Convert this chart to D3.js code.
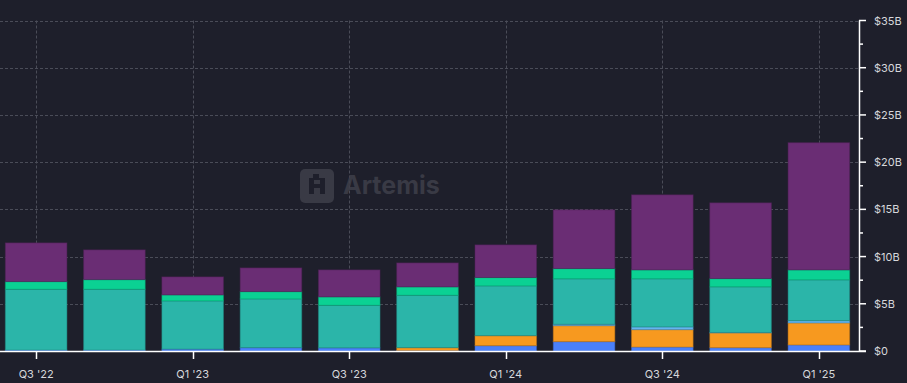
<!DOCTYPE html>
<html><head><meta charset="utf-8">
<script src="https://cdn.jsdelivr.net/npm/d3@7"></script>
<style>
html,body{margin:0;padding:0;background:#1e1f2b;}
svg{display:block;font-family:Inter,"Noto Sans",sans-serif;}
</style></head>
<body><svg id="c" width="907" height="383"></svg>
<script>
const quarters = ["Q3 '22","Q4 '22","Q1 '23","Q2 '23","Q3 '23","Q4 '23","Q1 '24","Q2 '24","Q3 '24","Q4 '24","Q1 '25"];
const xTickLabels = ["Q3 '22","Q1 '23","Q3 '23","Q1 '24","Q3 '24","Q1 '25"];
const seriesNames = ["blue","orange","lightblue","teal","green","purple"];
const blue      = [0.10,0.10,0.20,0.35,0.33,0.05,0.56,0.99,0.42,0.35,0.64];
const orange    = [0,0,0,0,0,0.30,1.06,1.69,1.84,1.56,2.33];
const lightblue = [0,0,0,0,0,0,0,0.15,0.29,0.05,0.24];
const teal      = [6.44,6.44,5.10,5.16,4.51,5.55,5.27,4.81,5.09,4.83,4.32];
const green     = [0.81,1.02,0.64,0.78,0.89,0.89,0.89,1.09,0.95,0.88,1.06];
const purple    = [4.10,3.15,1.91,2.51,2.86,2.54,3.46,6.22,7.95,8.02,13.47];
const yTicks = [0,5,10,15,20,25,30,35];
const yTickLabels = ["$0","$5B","$10B","$15B","$20B","$25B","$30B","$35B"];
const colors = {blue:"#4a80fb",orange:"#f7991f",lightblue:"#62b6f0",teal:"#2bb5a9",green:"#0bd193",purple:"#6a2d74"};

const seriesData = {blue,orange,lightblue,teal,green,purple};
const table = quarters.map((q,i)=>{const r={q};seriesNames.forEach(s=>r[s]=seriesData[s][i]);return r;});

const svg = d3.select("#c");
const x = d3.scaleBand().domain(quarters).range([-3,858]).paddingInner(0.2).paddingOuter(0.1);
const y = d3.scaleLinear().domain([0,35]).range([351,20.5]);
const axisX = 859;

// grid
const grid = svg.append("g");
grid.selectAll("line.h").data(yTicks.filter(d=>d>0)).join("line")
  .attr("x1",0).attr("x2",axisX).attr("y1",d=>Math.round(y(d))+0.5).attr("y2",d=>Math.round(y(d))+0.5)
  .attr("stroke","#4a4c58").attr("stroke-dasharray","3,2");
grid.selectAll("line.v").data(xTickLabels).join("line")
  .attr("x1",d=>Math.round(x(d)+x.bandwidth()/2)+0.5).attr("x2",d=>Math.round(x(d)+x.bandwidth()/2)+0.5)
  .attr("y1",y(35)).attr("y2",y(0))
  .attr("stroke","#4a4c58").attr("stroke-dasharray","3,2");

// watermark
const wm = svg.append("g").attr("opacity",0.85);
wm.append("rect").attr("x",300).attr("y",169).attr("width",34).attr("height",34).attr("rx",5).attr("fill","#3e3f4a");
wm.append("path").attr("d","M309 194 h5 v-6 h6 v6 h5 v-16 h-6 v-4 h-6 v4 h-4 z M314 184 v-4 h6 v4 z").attr("fill","#1e1f2b");
wm.append("text").attr("x",343).attr("y",194).attr("font-size",25).attr("font-weight",700)
  .attr("fill","#3e3f4a").text("Artemis");

// bars
const stack = d3.stack().keys(seriesNames)(table);
svg.append("g").selectAll("g").data(stack).join("g")
  .attr("fill",d=>colors[d.key])
  .attr("stroke",d=>d3.color(colors[d.key]).darker(0.8))
  .attr("stroke-width",1)
  .selectAll("rect").data(d=>d.filter(p=>p[1]-p[0]>0)).join("rect")
  .attr("x",d=>x(d.data.q)+0.5).attr("width",x.bandwidth()-1)
  .attr("y",d=>y(d[1])).attr("height",d=>Math.max(0,y(d[0])-y(d[1])))
  .attr("stroke-opacity",0.5);

// x axis
const xa = svg.append("g");
xa.append("line").attr("x1",0).attr("x2",axisX+7).attr("y1",351.5).attr("y2",351.5).attr("stroke","#fff").attr("stroke-width",1.5);
xa.selectAll("line.t").data(xTickLabels).join("line")
  .attr("x1",d=>Math.round(x(d)+x.bandwidth()/2)+0.5).attr("x2",d=>Math.round(x(d)+x.bandwidth()/2)+0.5)
  .attr("y1",352).attr("y2",359).attr("stroke","#fff").attr("stroke-width",1.5);
xa.selectAll("text").data(xTickLabels).join("text")
  .attr("x",d=>x(d)+x.bandwidth()/2).attr("y",378).attr("text-anchor","middle")
  .attr("font-size",11).attr("fill","#d6d7db").text(d=>d);

// y axis
const ya = svg.append("g");
ya.append("line").attr("x1",axisX+0.5).attr("x2",axisX+0.5).attr("y1",y(35)).attr("y2",352).attr("stroke","#fff").attr("stroke-width",1.5);
const minor = d3.range(2.5,35,5);
ya.selectAll("line.mi").data(minor).join("line")
  .attr("x1",axisX).attr("x2",axisX+4).attr("y1",d=>y(d)).attr("y2",d=>y(d)).attr("stroke","#fff").attr("stroke-width",1.5);
ya.selectAll("line.ma").data(yTicks).join("line")
  .attr("x1",axisX).attr("x2",axisX+7).attr("y1",d=>y(d)).attr("y2",d=>y(d)).attr("stroke","#fff").attr("stroke-width",1.5);
ya.selectAll("text").data(yTicks).join("text")
  .attr("x",874).attr("y",d=>y(d)+4).attr("font-size",11).attr("fill","#d6d7db").text((d,i)=>yTickLabels[i]);
</script></body></html>
